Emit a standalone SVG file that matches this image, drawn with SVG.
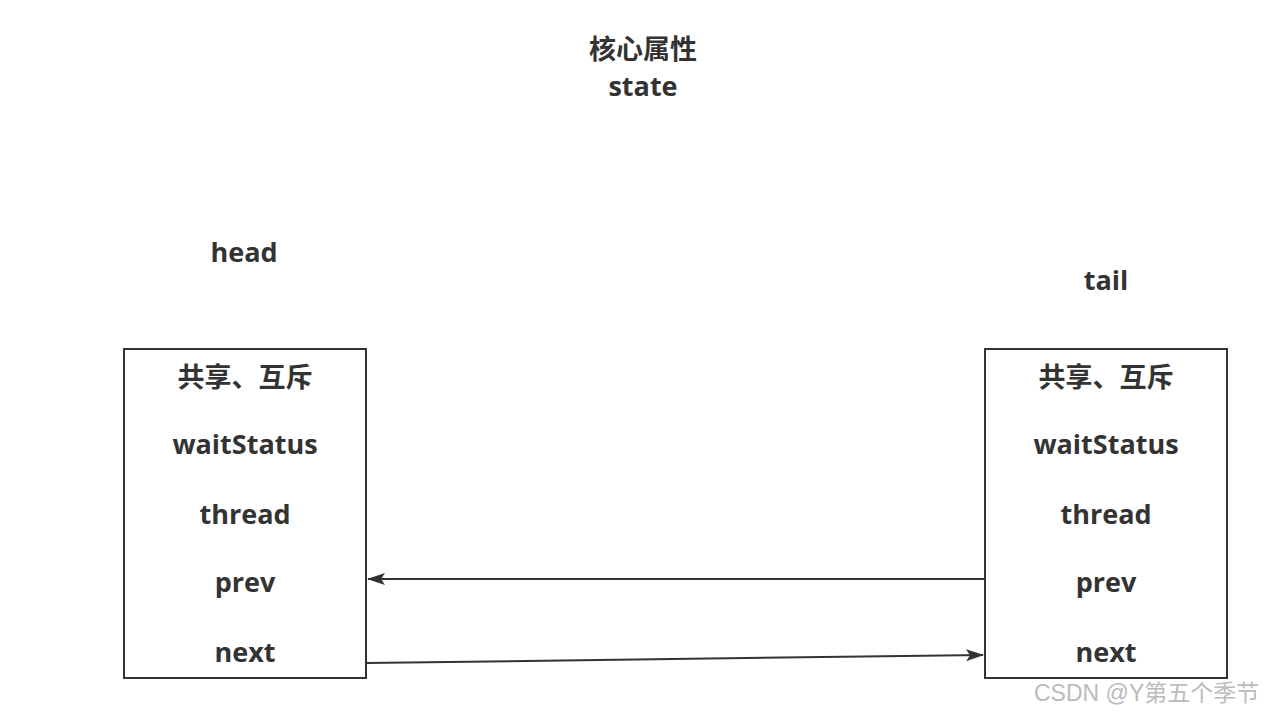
<svg xmlns="http://www.w3.org/2000/svg" width="1265" height="715" viewBox="0 0 1265 715">
<style>
.t{font-family:"Open Sans","Noto Sans CJK SC",sans-serif;font-weight:bold;font-size:27px;fill:#333;text-anchor:middle}
.box{fill:#fff;stroke:#333;stroke-width:2}
.c{stroke:#333;stroke-width:2;fill:none}
.wm{font-family:"Liberation Sans","Noto Sans CJK SC",sans-serif;font-size:23px;fill:#bbb}
</style>
<defs>
<marker id="ah" markerWidth="18" markerHeight="12" refX="17" refY="6" orient="auto" markerUnits="userSpaceOnUse">
<path d="M0,0 L18,6 L0,12 L4,6 Z" fill="#333"/>
</marker>
</defs>
<rect width="1265" height="715" fill="#fff"/>
<g id="title">
<text class="t" x="643" y="59">核心属性</text>
<text class="t" x="643" y="96">state</text>
</g>
<g id="head-label"><text class="t" x="244" y="262">head</text></g>
<g id="tail-label"><text class="t" x="1106" y="290">tail</text></g>
<g id="head">
<rect class="box" x="124" y="349" width="242" height="329"/>
<text class="t" x="245" y="387">共享、互斥</text>
<text class="t" x="245" y="454">waitStatus</text>
<text class="t" x="245" y="524">thread</text>
<text class="t" x="245" y="592">prev</text>
<text class="t" x="245" y="662">next</text>
</g>
<g id="tail">
<rect class="box" x="985" y="349" width="242" height="329"/>
<text class="t" x="1106" y="387">共享、互斥</text>
<text class="t" x="1106" y="454">waitStatus</text>
<text class="t" x="1106" y="524">thread</text>
<text class="t" x="1106" y="592">prev</text>
<text class="t" x="1106" y="662">next</text>
</g>
<g id="connectors">
<line class="c" x1="985" y1="579" x2="368" y2="579" marker-end="url(#ah)"/>
<line class="c" x1="366" y1="663" x2="983" y2="655" marker-end="url(#ah)"/>
</g>
<text class="wm" x="1034" y="701">CSDN @Y第五个季节</text>
</svg>
